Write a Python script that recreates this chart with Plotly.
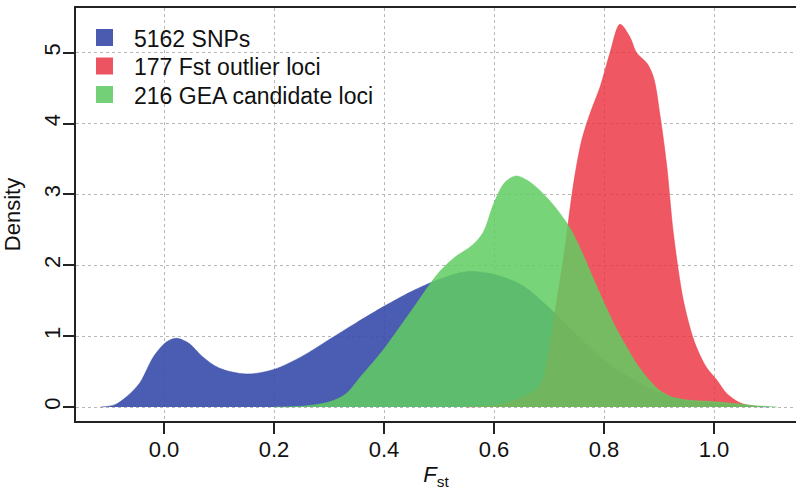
import plotly.graph_objects as go

# Kernel density of Fst, one curve per locus set
snp_x = [-0.115, -0.09, -0.068, -0.044, -0.019, 0.005, 0.023, 0.045, 0.07, 0.10,
         0.15, 0.20, 0.25, 0.30, 0.35, 0.40, 0.45, 0.50, 0.55, 0.60,
         0.65, 0.70, 0.75, 0.80, 0.85, 0.90, 0.95, 1.0, 1.05, 1.1]
snp_y = [0, 0.03, 0.145, 0.34, 0.71, 0.92, 0.97, 0.90, 0.71, 0.55,
         0.465, 0.53, 0.71, 0.95, 1.19, 1.42, 1.63, 1.80, 1.91, 1.87,
         1.72, 1.40, 1.02, 0.66, 0.40, 0.20, 0.09, 0.05, 0.02, 0]

outlier_x = [0.55, 0.58, 0.605, 0.63, 0.653, 0.678, 0.69, 0.70, 0.71, 0.72,
             0.73, 0.74, 0.75, 0.76, 0.775, 0.793, 0.811, 0.829, 0.847, 0.859,
             0.878, 0.89, 0.902, 0.914, 0.926, 0.944, 0.962, 0.975, 0.987, 1.005,
             1.023, 1.047, 1.065, 1.085]
outlier_y = [0, 0.01, 0.03, 0.08, 0.145, 0.25, 0.42, 0.82, 1.3, 1.78,
             2.3, 2.9, 3.4, 3.78, 4.15, 4.52, 5.0, 5.40, 5.22, 5.0,
             4.85, 4.65, 4.1, 3.4, 2.45, 1.51, 0.97, 0.72, 0.55, 0.38,
             0.19, 0.06, 0.02, 0]

gea_x = [0.20, 0.25, 0.30, 0.33, 0.36, 0.40, 0.45, 0.50, 0.53, 0.56,
         0.58, 0.60, 0.62, 0.64, 0.66, 0.68, 0.70, 0.72, 0.74, 0.76,
         0.78, 0.80, 0.82, 0.84, 0.86, 0.88, 0.90, 0.92, 0.95, 1.0,
         1.05, 1.08, 1.114]
gea_y = [0, 0.01, 0.07, 0.18, 0.45, 0.82, 1.36, 1.90, 2.12, 2.28,
         2.46, 2.88, 3.17, 3.26, 3.20, 3.08, 2.92, 2.73, 2.50, 2.18,
         1.82, 1.47, 1.14, 0.86, 0.60, 0.40, 0.24, 0.15, 0.10, 0.075,
         0.04, 0.015, 0]

series_names = ["5162 SNPs", "177 Fst outlier loci", "216 GEA candidate loci"]
fill_colors = ["rgba(55,75,170,0.9)", "rgba(235,50,65,0.82)", "rgba(96,204,96,0.85)"]
swatch_colors = ["#4a5bb0", "#ec5462", "#74d077"]

x_ticks = [0, 0.2, 0.4, 0.6, 0.8, 1.0]
x_tick_text = ["0.0", "0.2", "0.4", "0.6", "0.8", "1.0"]
y_ticks = [0, 1, 2, 3, 4, 5]

FONT = "Liberation Sans, Arial, sans-serif"

# plot-area geometry in pixels, used to place the key
W, H = 796, 490
ML, MR, MT, MB = 76, 0, 8, 69
PW, PH = W - ML - MR, H - MT - MB


def px_to_paper_x(px):
    return (px - ML) / PW


def px_to_paper_y(py):
    return (H - MB - py) / PH


fig = go.Figure()

for xs, ys, col in zip([snp_x, outlier_x, gea_x], [snp_y, outlier_y, gea_y], fill_colors):
    fig.add_trace(go.Scatter(
        x=xs, y=ys, mode="lines", fill="tozeroy", fillcolor=col,
        line=dict(color=col, width=0.6, shape="spline", smoothing=0.9),
        showlegend=False, hoverinfo="skip",
    ))

# key: square swatch + label per series
key_top, key_step, sw = 37.5, 28.5, 17
shapes, annotations = [], []
for i, (name, col) in enumerate(zip(series_names, swatch_colors)):
    cy = key_top + i * key_step
    shapes.append(dict(
        type="rect", xref="paper", yref="paper",
        x0=px_to_paper_x(96), x1=px_to_paper_x(96 + sw),
        y0=px_to_paper_y(cy + sw / 2), y1=px_to_paper_y(cy - sw / 2),
        fillcolor=col, line=dict(width=0), layer="above",
    ))
    annotations.append(dict(
        text=name, xref="paper", yref="paper",
        x=px_to_paper_x(132), y=px_to_paper_y(cy + 1),
        xanchor="left", yanchor="middle", showarrow=False,
        font=dict(family=FONT, size=23, color="#111111"),
    ))

axis_common = dict(
    showline=True, linecolor="#222222", linewidth=2,
    ticks="outside", ticklen=11, tickwidth=1.6, tickcolor="#222222",
    showgrid=True, gridcolor="#b8b8b8", griddash="dot", gridwidth=1,
    zeroline=False, tickfont=dict(family=FONT, size=22, color="#111111"),
)

fig.update_layout(
    width=W, height=H,
    margin=dict(l=ML, r=MR, t=MT, b=MB),
    paper_bgcolor="white", plot_bgcolor="white",
    font=dict(family=FONT, color="#111111"),
    showlegend=False,
    shapes=shapes, annotations=annotations,
    xaxis=dict(
        range=[-0.16, 1.149], tickvals=x_ticks, ticktext=x_tick_text,
        mirror=True, ticklabelstandoff=-3,
        title=dict(text="<i>F</i><sub>st</sub>", font=dict(family=FONT, size=22), standoff=12),
        **axis_common,
    ),
    yaxis=dict(
        range=[-0.1975, 5.63], tickvals=y_ticks, tickangle=-90, ticklabelstandoff=-6,
        title=dict(text="Density", font=dict(family=FONT, size=22), standoff=18),
        **axis_common,
    ),
)

fig.write_html("out.html")
